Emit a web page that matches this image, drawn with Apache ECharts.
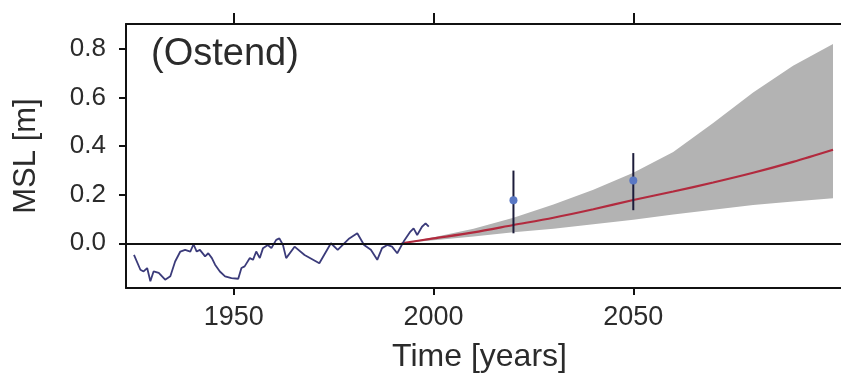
<!DOCTYPE html>
<html>
<head>
<meta charset="utf-8">
<script src="https://cdn.jsdelivr.net/npm/echarts@6/dist/echarts.min.js"></script>
<style>
  html, body { margin: 0; padding: 0; background: #fff; }
  #chart { width: 841px; height: 378px; }
</style>
</head>
<body>
<div id="chart"></div>
<script>
// observed tide gauge record (Ostend)
const obsYears = [1925.0, 1926.6, 1927.4, 1928.3, 1929.1, 1929.9, 1931.2, 1932.8, 1934.1, 1935.3,
  1936.6, 1937.8, 1939.1, 1939.9, 1940.7, 1941.5, 1942.8, 1943.6, 1944.5, 1945.3,
  1946.5, 1947.8, 1949.4, 1951.1, 1951.9, 1952.7, 1954.0, 1954.8, 1955.6, 1956.5,
  1957.3, 1958.5, 1959.4, 1960.6, 1961.4, 1962.3, 1963.1, 1965.2, 1967.7, 1971.4,
  1974.3, 1976.0, 1978.9, 1980.9, 1982.6, 1984.3, 1985.9, 1987.1, 1988.4, 1989.6,
  1990.9, 1992.5, 1994.2, 1995.0, 1995.9, 1997.1, 1998.0, 1998.8];
const obsValues = [-0.048, -0.109, -0.116, -0.102, -0.156, -0.116, -0.122, -0.150, -0.136, -0.075,
  -0.034, -0.027, -0.034, -0.004, -0.034, -0.027, -0.054, -0.041, -0.061, -0.088,
  -0.116, -0.136, -0.143, -0.146, -0.102, -0.095, -0.061, -0.068, -0.034, -0.061,
  -0.020, -0.007, -0.020, 0.014, 0.020, -0.007, -0.061, -0.014, -0.048, -0.082,
  0.000, -0.027, 0.020, 0.041, -0.007, -0.027, -0.068, -0.020, -0.007, -0.014,
  -0.041, 0.007, 0.048, 0.061, 0.034, 0.068, 0.082, 0.068];

// projection
const projYears = [1992, 2000, 2010, 2020, 2030, 2040, 2050, 2060, 2070, 2080, 2090, 2100];
const projMid   = [0, 0.020, 0.045, 0.075, 0.105, 0.140, 0.178, 0.213, 0.250, 0.290, 0.335, 0.385];
const projLow   = [0, 0.012, 0.028, 0.045, 0.060, 0.078, 0.097, 0.118, 0.138, 0.157, 0.172, 0.185];
const projHigh  = [0, 0.025, 0.060, 0.105, 0.160, 0.220, 0.290, 0.375, 0.495, 0.620, 0.730, 0.820];

// point estimates with ranges
const estYears = [2020, 2050];
const estMid   = [0.177, 0.258];
const estLow   = [0.041, 0.136];
const estHigh  = [0.299, 0.371];

const xTicks = [1950, 2000, 2050];
const yTicks = [0, 0.2, 0.4, 0.6, 0.8];

const font = "'Liberation Sans', Arial, Helvetica, sans-serif";
const textCol = '#2b2b2b';

const chart = echarts.init(document.getElementById('chart'), null, { renderer: 'canvas' });

const xBase = {
  type: 'value',
  min: 1923,
  max: 2102,
  splitLine: { show: false },
  axisLine: { show: true, onZero: false, lineStyle: { color: '#111', width: 2 } }
};

chart.setOption({
  animation: false,
  backgroundColor: '#fff',
  grid: { left: 126, top: 24, right: -4, bottom: 88 },
  graphic: [{
    type: 'text',
    left: 151,
    top: 36,
    style: { text: '(Ostend)', font: '38px ' + font, fill: textCol }
  }],
  xAxis: [
    Object.assign({}, xBase, {
      position: 'bottom',
      name: 'Time [years]',
      nameLocation: 'middle',
      nameGap: 53,
      nameTextStyle: { fontSize: 32, fontFamily: font, color: textCol, padding: [0, 8, 0, 0] },
      axisTick: { show: true, length: 7, customValues: xTicks, lineStyle: { color: '#111', width: 2 } },
      axisLabel: {
        customValues: xTicks, margin: 16, fontSize: 27, fontFamily: font, color: textCol,
        formatter: (v) => String(v)
      }
    }),
    Object.assign({}, xBase, {
      position: 'top',
      axisTick: { show: true, length: 11, customValues: xTicks, lineStyle: { color: '#111', width: 2 } },
      axisLabel: { show: false }
    })
  ],
  yAxis: {
    type: 'value',
    min: -0.184,
    max: 0.902,
    name: 'MSL [m]',
    nameLocation: 'middle',
    nameGap: 84,
    nameTextStyle: { fontSize: 31, fontFamily: font, color: textCol },
    splitLine: { show: false },
    axisLine: { show: true, onZero: false, lineStyle: { color: '#111', width: 2 } },
    axisTick: { show: true, length: 7, customValues: yTicks, lineStyle: { color: '#111', width: 2 } },
    axisLabel: {
      customValues: yTicks, margin: 20, fontSize: 26, fontFamily: font, color: textCol,
      formatter: (v) => v.toFixed(1)
    }
  },
  series: [
    {
      name: 'range',
      type: 'custom',
      data: [0],
      renderItem: (params, api) => {
        const upper = projYears.map((y, i) => api.coord([y, projHigh[i]]));
        const lower = projYears.map((y, i) => api.coord([y, projLow[i]])).reverse();
        return {
          type: 'polygon',
          shape: { points: upper.concat(lower) },
          style: { fill: '#b3b3b3' }
        };
      },
      z: 1
    },
    {
      name: 'projection',
      type: 'line',
      smooth: 0.3,
      symbol: 'none',
      lineStyle: { color: '#b22a3e', width: 2.2 },
      data: projYears.map((y, i) => [y, projMid[i]]),
      z: 3
    },
    {
      name: 'observed',
      type: 'line',
      symbol: 'none',
      lineStyle: { color: '#3b3b7a', width: 1.8 },
      data: obsYears.map((y, i) => [y, obsValues[i]]),
      markLine: {
        silent: true,
        symbol: 'none',
        label: { show: false },
        lineStyle: { color: '#111', width: 2, type: 'solid' },
        data: [{ yAxis: 0 }]
      },
      z: 4
    },
    {
      name: 'estimates',
      type: 'custom',
      data: estYears.map((y, i) => [y, estMid[i], estLow[i], estHigh[i]]),
      renderItem: (params, api) => {
        const top = api.coord([api.value(0), api.value(3)]);
        const bot = api.coord([api.value(0), api.value(2)]);
        const mid = api.coord([api.value(0), api.value(1)]);
        return {
          type: 'group',
          children: [
            {
              type: 'line',
              shape: { x1: top[0], y1: top[1], x2: bot[0], y2: bot[1] },
              style: { stroke: '#1c1c3a', lineWidth: 2 }
            },
            {
              type: 'circle',
              shape: { cx: mid[0], cy: mid[1], r: 4 },
              style: { fill: '#5a78c4' }
            }
          ]
        };
      },
      z: 5
    }
  ]
});
</script>
</body>
</html>
